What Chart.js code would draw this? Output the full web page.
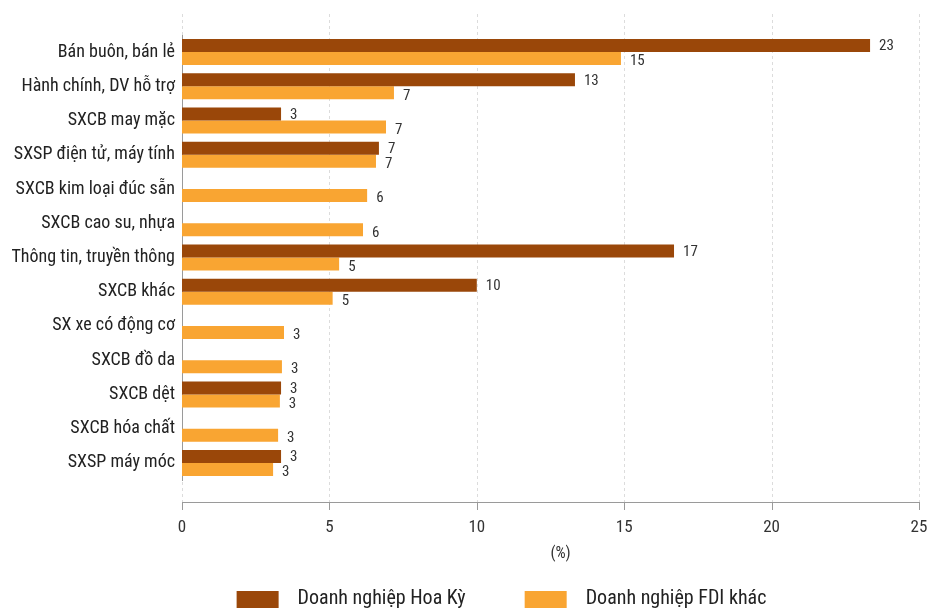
<!DOCTYPE html>
<html>
<head>
<meta charset="utf-8">
<script src="https://cdn.jsdelivr.net/npm/chart.js@4.4.1/dist/chart.umd.min.js"></script>
<style>
  html, body { margin: 0; padding: 0; background: #ffffff; overflow: hidden; }
  #wrap { width: 927px; height: 608px; }
</style>
</head>
<body>
<div id="wrap"><canvas id="c" width="927" height="608"></canvas></div>
<script>
const categories = [
  "Bán buôn, bán lẻ",
  "Hành chính, DV hỗ trợ",
  "SXCB may mặc",
  "SXSP điện tử, máy tính",
  "SXCB kim loại đúc sẵn",
  "SXCB cao su, nhựa",
  "Thông tin, truyền thông",
  "SXCB khác",
  "SX xe có động cơ",
  "SXCB đồ da",
  "SXCB dệt",
  "SXCB hóa chất",
  "SXSP máy móc"
];
const seriesNames = ["Doanh nghiệp Hoa Kỳ", "Doanh nghiệp FDI khác"];
const usValues  = [23.34, 13.33, 3.36, 6.68, null, null, 16.69, 10.0, null, null, 3.36, null, 3.36];
const fdiValues = [14.89, 7.19, 6.92, 6.58, 6.28, 6.14, 5.33, 5.11, 3.46, 3.39, 3.32, 3.26, 3.09];
const xTickValues = [0, 5, 10, 15, 20, 25];
const axisTitle = "(%)";

const FONT = "'Liberation Sans Narrow', 'Roboto Condensed', 'Arial Narrow', Roboto, sans-serif";
const colors = ["#9a4709", "#f9a532"];

const overlay = {
  id: 'overlay',
  beforeDraw(chart) {
    const ctx = chart.ctx, x = chart.scales.x;
    const axisY = 502;
    ctx.save();
    // dashed vertical grid
    ctx.strokeStyle = '#dcdcdc';
    ctx.lineWidth = 1;
    ctx.setLineDash([3, 3]);
    xTickValues.forEach(v => {
      const px = Math.round(x.getPixelForValue(v)) + 0.5;
      ctx.beginPath(); ctx.moveTo(px, 14); ctx.lineTo(px, axisY); ctx.stroke();
    });
    ctx.setLineDash([]);
    // x axis line and ticks
    ctx.strokeStyle = '#9a9a9a';
    ctx.beginPath();
    ctx.moveTo(Math.round(x.getPixelForValue(0)), axisY + 0.5);
    ctx.lineTo(Math.round(x.getPixelForValue(25)) + 1, axisY + 0.5);
    ctx.stroke();
    xTickValues.forEach(v => {
      const px = Math.round(x.getPixelForValue(v)) + 0.5;
      ctx.beginPath(); ctx.moveTo(px, axisY); ctx.lineTo(px, axisY + 8); ctx.stroke();
    });
    ctx.restore();
  },
  afterDatasetsDraw(chart) {
    const ctx = chart.ctx;
    ctx.save();
    ctx.font = "15px " + FONT;
    ctx.fillStyle = '#333333';
    ctx.textAlign = 'left';
    ctx.textBaseline = 'middle';
    chart.data.datasets.forEach((ds, di) => {
      const meta = chart.getDatasetMeta(di);
      meta.data.forEach((bar, i) => {
        const v = ds.data[i];
        if (v === null || v === undefined) return;
        const dy = di === 0 ? 1 : 3;
        ctx.fillText(String(Math.round(v)), bar.x + 9, bar.y + dy);
      });
    });
    ctx.restore();
  },
  afterDraw(chart) {
    const ctx = chart.ctx, area = chart.chartArea;
    ctx.save();
    // axis title
    ctx.font = "16px " + FONT;
    ctx.fillStyle = '#333333';
    ctx.textAlign = 'center';
    ctx.textBaseline = 'middle';
    ctx.fillText(axisTitle, (area.left + area.right) / 2 + 10, 554);
    // legend
    ctx.font = "20px " + FONT;
    ctx.textAlign = 'left';
    const boxW = 42, boxH = 18, gapText = 19, gapItem = 59;
    const items = chart.data.datasets.map(ds => ({
      label: ds.label, color: ds.backgroundColor,
      w: boxW + gapText + ctx.measureText(ds.label).width
    }));
    const total = items.reduce((s, it) => s + it.w, 0) + gapItem * (items.length - 1);
    let x = 501.5 - total / 2;
    const top = 591;
    items.forEach(it => {
      ctx.fillStyle = it.color;
      ctx.fillRect(x, top, boxW, boxH);
      ctx.fillStyle = '#222222';
      ctx.fillText(it.label, x + boxW + gapText, top + 8);
      x += it.w + gapItem;
    });
    ctx.restore();
  }
};

new Chart(document.getElementById('c'), {
  type: 'bar',
  data: {
    labels: categories,
    datasets: [
      { label: seriesNames[0], data: usValues, backgroundColor: colors[0] },
      { label: seriesNames[1], data: fdiValues, backgroundColor: colors[1] }
    ]
  },
  options: {
    indexAxis: 'y',
    responsive: false,
    animation: false,
    devicePixelRatio: 1,
    categoryPercentage: 0.76,
    barPercentage: 1.0,
    layout: { padding: { left: 0, right: 8, top: 35, bottom: 0 } },
    plugins: { legend: { display: false }, tooltip: { enabled: false } },
    scales: {
      x: {
        type: 'linear', min: 0, max: 25,
        afterBuildTicks: s => { s.ticks = xTickValues.map(v => ({ value: v })); },
        grid: { display: false, drawTicks: true, tickLength: 40 },
        border: { display: false },
        ticks: { color: '#333333', font: { family: FONT, size: 17 }, padding: -2 },
        afterFit: s => { s.height = 128; }
      },
      y: {
        grid: { display: false, drawTicks: false, tickLength: 0 },
        border: { display: true, color: '#9a9a9a', width: 1 },
        ticks: { color: '#222222', font: { family: FONT, size: 18 }, padding: 7 },
        afterFit: s => { s.width = 182; }
      }
    }
  },
  plugins: [overlay]
});
</script>
</body>
</html>
